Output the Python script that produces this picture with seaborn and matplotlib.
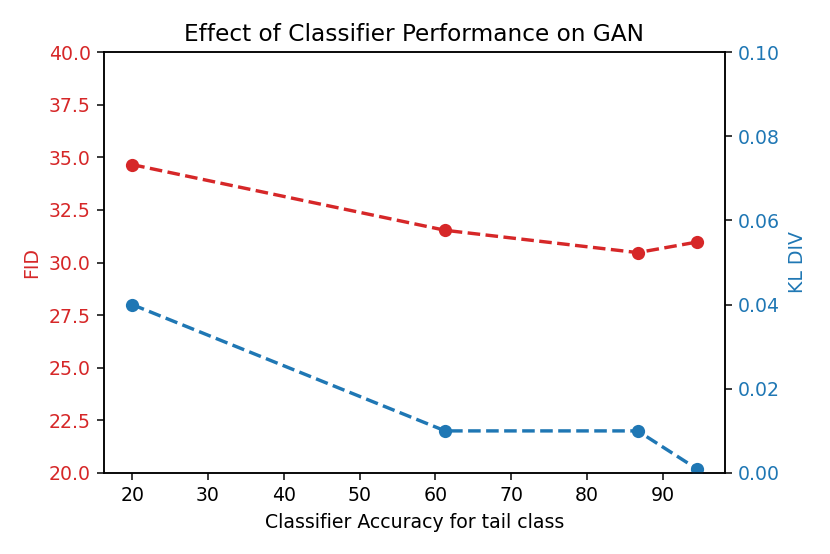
import matplotlib
matplotlib.use("Agg")
import matplotlib.pyplot as plt
import seaborn as sns
import pandas as pd

accuracy = [20.0, 61.3, 86.7, 94.5]
fid = [34.65, 31.53, 30.47, 30.97]
kl_div = [0.040, 0.010, 0.010, 0.001]

df = pd.DataFrame({"accuracy": accuracy, "fid": fid, "kl": kl_div})

red = "tab:red"
blue = "tab:blue"

fig = plt.figure(figsize=(830 / 136, 554 / 136), dpi=136)
ax1 = fig.add_axes([104 / 830, 1 - 473 / 554, (725 - 104) / 830, (473 - 52) / 554])

sns.lineplot(data=df, x="accuracy", y="fid", ax=ax1, color=red, marker="o",
             linestyle="--", linewidth=1.8, markeredgewidth=0, markersize=7)
ax1.set_ylim(20, 40)
ax1.set_yticks([20, 22.5, 25, 27.5, 30, 32.5, 35, 37.5, 40])
ax1.set_yticklabels([f"{v:.1f}" for v in [20, 22.5, 25, 27.5, 30, 32.5, 35, 37.5, 40]])
ax1.set_ylabel("FID", color=red)
ax1.tick_params(axis="y", labelcolor=red)
ax1.set_xlabel("Classifier Accuracy for tail class")
ax1.set_xticks([20, 30, 40, 50, 60, 70, 80, 90])

ax2 = ax1.twinx()
sns.lineplot(data=df, x="accuracy", y="kl", ax=ax2, color=blue, marker="o",
             linestyle="--", linewidth=1.8, markeredgewidth=0, markersize=7)
ax2.set_ylim(0, 0.10)
ax2.set_yticks([0, 0.02, 0.04, 0.06, 0.08, 0.10])
ax2.set_yticklabels([f"{v:.2f}" for v in [0, 0.02, 0.04, 0.06, 0.08, 0.10]])
ax2.set_ylabel("KL DIV", color=blue)
ax2.tick_params(axis="y", labelcolor=blue)

ax1.set_title("Effect of Classifier Performance on GAN", fontsize=12.3)

fig.savefig("out.png", dpi=136)
